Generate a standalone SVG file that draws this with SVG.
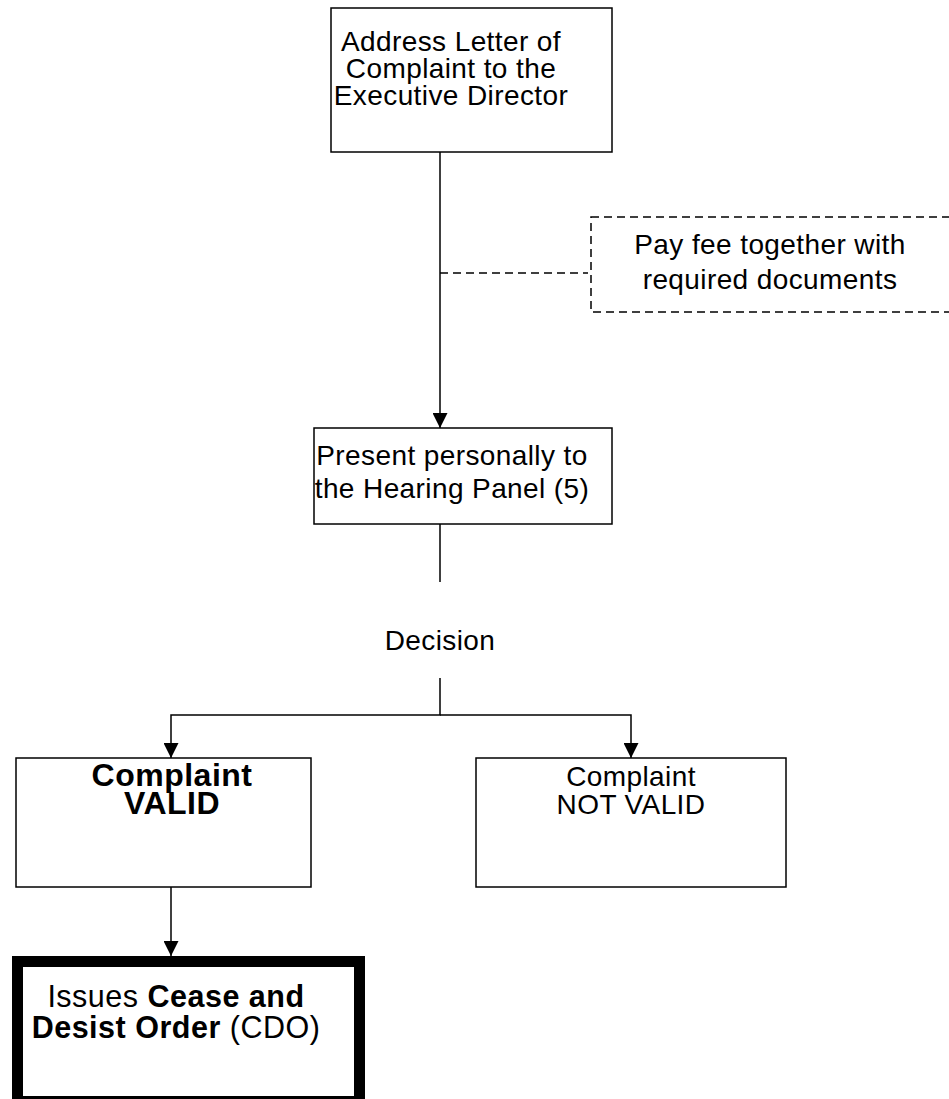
<svg xmlns="http://www.w3.org/2000/svg" width="949" height="1099" viewBox="0 0 949 1099">
<style>
.box{fill:#fff;stroke:#000;stroke-width:1.5}
.thick{fill:#fff;stroke:#000;stroke-width:11}
.dash{fill:none;stroke:#000;stroke-width:1.5;stroke-dasharray:8 5}
.ln{fill:none;stroke:#000;stroke-width:1.5}
text{font-family:"Liberation Sans",Arial,sans-serif;font-size:28px;letter-spacing:0.4px;fill:#000;text-anchor:middle}
.b{font-weight:bold}
.big{font-size:32px;letter-spacing:0.5px}
.cdo{font-size:30.5px;letter-spacing:0.5px}
</style>
<defs>
<marker id="arr" markerUnits="userSpaceOnUse" markerWidth="16" markerHeight="15" refX="15" refY="7.5" orient="auto">
<path d="M0,0 L15,7.5 L0,15 Z" fill="#000"/>
</marker>
</defs>
<g id="connectors">
<line class="ln" x1="440" y1="152" x2="440" y2="428" marker-end="url(#arr)"/>
<line class="dash" x1="440" y1="273" x2="588" y2="273"/>
<line class="ln" x1="440" y1="524" x2="440" y2="582"/>
<polyline class="ln" points="440,678 440,715 171,715 171,758" marker-end="url(#arr)"/>
<polyline class="ln" points="440,715 631,715 631,758" marker-end="url(#arr)"/>
<line class="ln" x1="171" y1="887" x2="171" y2="956" marker-end="url(#arr)"/>
</g>
<g id="n_address">
<rect class="box" x="331" y="8" width="281" height="144"/>
<text x="451" y="51">Address Letter of</text>
<text x="451" y="78">Complaint to the</text>
<text x="451" y="105">Executive Director</text>
</g>
<g id="n_fee">
<rect class="dash" x="591" y="217" width="380" height="95"/>
<text x="770" y="254">Pay fee together with</text>
<text x="770" y="289">required documents</text>
</g>
<g id="n_present">
<rect class="box" x="314" y="428" width="298" height="96"/>
<text x="452" y="465">Present personally to</text>
<text x="452" y="498">the Hearing Panel (5)</text>
</g>
<g id="n_decision">
<text x="440" y="650">Decision</text>
</g>
<g id="n_valid">
<rect class="box" x="16" y="758" width="295" height="129"/>
<text class="b big" x="172" y="786">Complaint</text>
<text class="b big" x="172" y="814">VALID</text>
</g>
<g id="n_notvalid">
<rect class="box" x="476" y="758" width="310" height="129"/>
<text x="631" y="786">Complaint</text>
<text x="631" y="814">NOT VALID</text>
</g>
<g id="n_cdo">
<rect class="thick" x="17.5" y="961.5" width="342" height="140"/>
<text class="cdo" x="176" y="1007">Issues <tspan class="b">Cease and</tspan></text>
<text class="cdo" x="176" y="1038"><tspan class="b">Desist Order</tspan> (CDO)</text>
</g>
</svg>
